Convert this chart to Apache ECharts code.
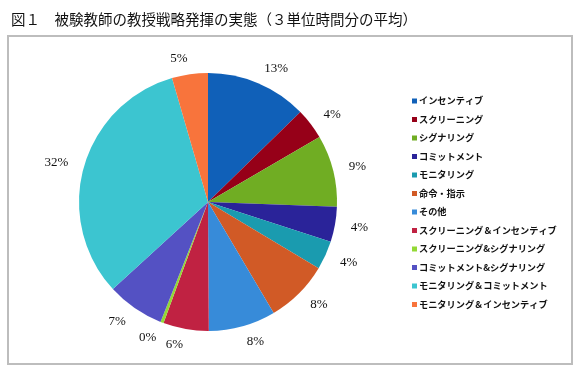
<!DOCTYPE html>
<html><head><meta charset="utf-8">
<script src="https://cdn.jsdelivr.net/npm/echarts@6/dist/echarts.min.js"></script>
<style>html,body{margin:0;padding:0;background:#fff;}#c{width:580px;height:373px;}</style>
</head><body><div id="c"></div>
<script>
const titleText = '図１　被験教師の教授戦略発揮の実態（３単位時間分の平均）';
const categories = ['インセンティブ','スクリーニング','シグナリング','コミットメント','モニタリング','命令・指示','その他','スクリーニング＆インセンティブ','スクリーニング&シグナリング','コミットメント&シグナリング','モニタリング＆コミットメント','モニタリング＆インセンティブ'];
const values = [12.7, 3.9, 9.0, 4.4, 3.6, 7.9, 8.4, 5.7, 0.4, 7.2, 32.3, 4.5];
const colors = ['#1060B8','#960018','#70AD23','#2A2399','#1A9BAF','#D15A26','#378BD9','#C02242','#93D935','#5451C3','#3CC5D0','#F8743C'];

const chart = echarts.init(document.getElementById('c'));
chart.setOption({
  animation: false,
  backgroundColor: '#fff',
  title: {
    text: titleText, left: 6, top: 7,
    textStyle: {fontFamily: 'Noto Sans CJK JP', fontSize: 14.5, fontWeight: 'normal', color: '#111'}
  },
  graphic: [{
    type: 'rect', z: -1,
    shape: {x: 8, y: 36, width: 564, height: 328},
    style: {fill: '#fff', stroke: '#bdbdbd', lineWidth: 2}
  }],
  color: colors,
  legend: {
    orient: 'vertical', left: 407, top: 90,
    itemWidth: 5, itemHeight: 5, itemGap: 6.5, icon: 'rect',
    textStyle: {fontFamily: 'Noto Sans CJK JP', fontSize: 9.2, fontWeight: 'bold', color: '#111', lineHeight: 12, padding: [0,0,0,-3]},
    data: categories
  },
  series: [{
    type: 'pie',
    center: [208, 202], radius: 129,
    startAngle: 90, clockwise: true,
    avoidLabelOverlap: false,
    percentPrecision: 0,
    label: {
      show: true, position: 'outside', formatter: '{d}%', distanceToLabelLine: 0,
      fontFamily: 'Liberation Serif', fontSize: 13, color: '#111'
    },
    labelLine: {show: false, length: 16, length2: 0},
    itemStyle: {borderWidth: 0},
    emphasis: {disabled: true},
    data: categories.map((n, i) => ({name: n, value: values[i]}))
  }]
});
</script></body></html>
